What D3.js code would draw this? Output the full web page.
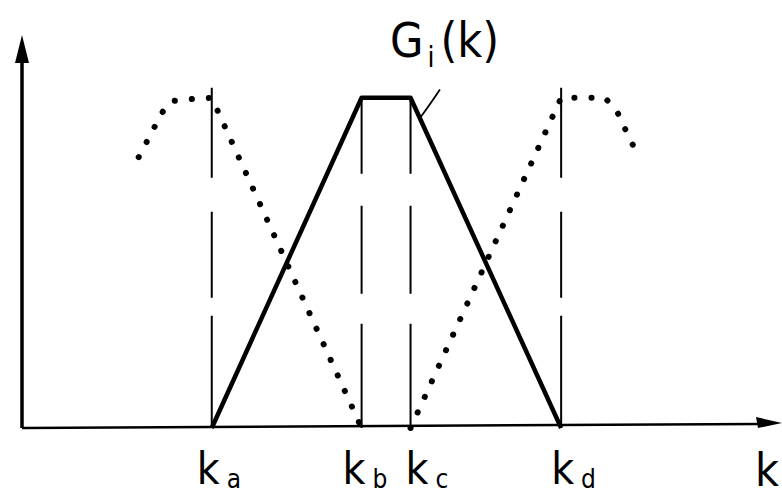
<!DOCTYPE html>
<html><head><meta charset="utf-8">
<script src="https://cdn.jsdelivr.net/npm/d3@7"></script>
<style>body{margin:0;background:#fff}svg{display:block}text{font-family:"DejaVu Sans Condensed","DejaVu Sans",sans-serif;fill:#000}</style>
</head><body><svg id="c" width="782" height="497"></svg>
<script>
// Break points of the filter G_i(k) (k units)
const breakNames = ["a", "b", "c", "d"];
const breakK = [2.52, 4.51, 5.16, 7.16];
// Solid trapezoid G_i(k)
const gK = [2.52, 4.51, 5.16, 7.16];
const gVal = [0, 1, 1, 0];
// Dotted neighbouring filters
const leftK = [1.55, 1.71, 1.86, 1.99, 2.2, 2.52, 4.51];
const leftVal = [0.82, 0.89, 0.955, 0.99, 0.995, 1.0, 0];
const rightK = [5.16, 7.16, 7.25, 7.74, 7.9, 8.0, 8.17];
const rightVal = [0, 1.0, 1.0, 1.0, 0.96, 0.91, 0.83];

const svg = d3.select("#c");
const x = d3.scaleLinear().domain([0, 10]).range([22, 775]);
const y = d3.scaleLinear().domain([0, 1.19]).range([428, 35]);
const line = d3.line().x(d => x(d[0])).y(d => y(d[1]));

// axes
svg.append("line").attr("x1", x(0)).attr("y1", y(0)).attr("x2", x(0)).attr("y2", y(1.19) + 20)
  .attr("stroke", "#000").attr("stroke-width", 3.5);
svg.append("path").attr("d", `M${x(0)},${y(1.19)} L${x(0)-7},${y(1.19)+28} L${x(0)+7},${y(1.19)+28}Z`).attr("fill", "#000");
svg.append("line").attr("x1", x(0)).attr("y1", y(0)).attr("x2", 760).attr("y2", y(0) - 4)
  .attr("stroke", "#000").attr("stroke-width", 2.5);
svg.append("path").attr("d", `M782,${y(0)-5} L756,${y(0)-11} L758,${y(0)}Z`).attr("fill", "#000");

// vertical dashed guides
breakK.forEach((k, i) => {
  const top = (i === 0 || i === 3) ? 1.03 : 1.0;
  svg.append("line").attr("x1", x(k)).attr("x2", x(k)).attr("y1", y(top)).attr("y2", y(0))
    .attr("stroke", "#000").attr("stroke-width", 2)
    .attr("stroke-dasharray", i === 0 || i === 3 ? "90,34,86,18,200" : "76,32,88,30,200");
});

// dotted neighbours
[[leftK, leftVal], [rightK, rightVal]].forEach(([ks, vs]) => {
  svg.append("path").datum(ks.map((k, i) => [k, vs[i]]))
    .attr("d", line)
    .attr("fill", "none").attr("stroke", "#000").attr("stroke-width", 6)
    .attr("stroke-linecap", "round").attr("stroke-dasharray", "0.1,17");
});

// solid G_i(k)
svg.append("path").datum(gK.map((k, i) => [k, gVal[i]])).attr("d", line)
  .attr("fill", "none").attr("stroke", "#000").attr("stroke-width", 4.5).attr("stroke-linejoin", "round");

// leader line
svg.append("path").attr("d", `M${x(5.29)},${y(0.94)} Q${x(5.45)},${y(0.99)} ${x(5.55)},${y(1.025)}`)
  .attr("fill", "none").attr("stroke", "#000").attr("stroke-width", 1.8);

// labels
const nudge = [0, -4, 10, 5];
const lbl = svg.append("g");
breakNames.forEach((n, i) => {
  const t = lbl.append("text").attr("x", x(breakK[i]) - 15 + nudge[i]).attr("y", 484).attr("font-size", 44);
  t.append("tspan").text("k");
  t.append("tspan").attr("dx", 7).attr("dy", 4).attr("font-size", 26).text(n);
});
lbl.append("text").attr("x", 755).attr("y", 486).attr("font-size", 46).text("k");
const g = lbl.append("text").attr("x", 390).attr("y", 57).attr("font-size", 48);
g.append("tspan").text("G");
g.append("tspan").attr("dx", 4).attr("dy", 10).attr("font-size", 28).text("i");
g.append("tspan").attr("dx", 6).attr("dy", -10).text("(k)");
</script></body></html>
